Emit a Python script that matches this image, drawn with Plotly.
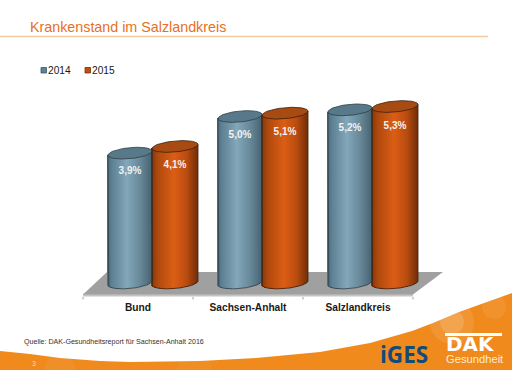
import numpy as np
import plotly.graph_objects as go

# ---- data ----
categories = ["Bund", "Sachsen-Anhalt", "Salzlandkreis"]
series_names = ["2014", "2015"]
values_2014 = [3.9, 5.0, 5.2]
values_2015 = [4.1, 5.1, 5.3]
labels_2014 = ["3,9%", "5,0%", "5,2%"]
labels_2015 = ["4,1%", "5,1%", "5,3%"]

# ---- geometry ----
W, H = 512, 370
X0, X1 = 83, 413      # tick span, px
Y_ZERO, PX_PER_UNIT = 283, 33.3
Y_BOT, Y_TOP = 296, 90
PX_PER_CAT = (X1 - X0) / 3
X_PAD = 27            # extra axis room on the right so that the last cylinder is not clipped
NO_LINE = dict(width=0, color="rgba(0,0,0,0)")


def px2v(py):
    return (Y_ZERO - py) / PX_PER_UNIT


def pxw(px):
    return px / PX_PER_CAT


def px2paper_x(px):
    return px / W


def px2paper_y(py):
    return 1 - py / H


def poly(points):
    return "M " + " L ".join(f"{px2paper_x(x):.4f},{px2paper_y(y):.4f}" for x, y in points) + " Z"


fig = go.Figure()

style = {
    "2014": dict(off=-8, width=44, label_off=18.5,
                 stops=[(0, "#4e6c7c"), (0.12, "#5f8294"), (0.45, "#83a8ba"), (0.75, "#68899a"), (1, "#4a6674")],
                 top="#587989", edge="#2e3d46", labels=labels_2014, values=values_2014),
    "2015": dict(off=37, width=46, label_off=19.5,
                 stops=[(0, "#823509"), (0.15, "#b04a0e"), (0.5, "#dc5e16"), (0.78, "#b84c10"), (1, "#773008")],
                 top="#a84b13", edge="#3a1e0c", labels=labels_2015, values=values_2015),
}


def hex2rgb(c):
    return np.array([int(c[i:i + 2], 16) for i in (1, 3, 5)], float)


def grad(t, stops):
    ts = [s[0] for s in stops]
    cols = np.array([hex2rgb(s[1]) for s in stops])
    r = [np.interp(t, ts, cols[:, i]) for i in range(3)]
    return f"rgb({int(r[0])},{int(r[1])},{int(r[2])})"


ELL_H = 5.5   # ellipse half height px
TILT = 2.0    # px rise from centre to right edge

# Bars (body of each cylinder) as narrow one-pixel strips
for name in series_names:
    st = style[name]
    xs, ys, bases, cols = [], [], [], []
    for i, v in enumerate(st["values"]):
        c = i + st["off"] / PX_PER_CAT
        n = st["width"]
        for k in range(n):
            t = (k + 0.5) / n
            u = 2 * t - 1
            xs.append(c + pxw(u * n / 2))
            bottom = -(ELL_H * np.sqrt(1 - u * u) - TILT * u) / PX_PER_UNIT
            topv = v + TILT * u / PX_PER_UNIT
            bases.append(bottom)
            ys.append(topv - bottom)
            cols.append(grad(t, st["stops"]))
    fig.add_bar(x=xs, y=ys, base=bases, width=pxw(1.15), marker=dict(color=cols, line=dict(width=0)),
                cliponaxis=False, showlegend=False, hoverinfo="skip")

# Top ellipses, outlines, value labels
ang = np.linspace(0, 2 * np.pi, 73)
for name in series_names:
    st = style[name]
    half = st["width"] / 2
    for i, v in enumerate(st["values"]):
        c = i + st["off"] / PX_PER_CAT
        ex = c + pxw(half) * np.cos(ang)
        ey = v + (ELL_H * np.sin(ang) + TILT * np.cos(ang)) / PX_PER_UNIT
        fig.add_scatter(x=ex, y=ey, mode="lines", fill="toself", fillcolor=st["top"],
                        line=dict(color=st["edge"], width=0.8), cliponaxis=False,
                        showlegend=False, hoverinfo="skip")
        a = np.linspace(np.pi, 2 * np.pi, 37)
        arc_x = c + pxw(half) * np.cos(a)
        arc_y = (ELL_H * np.sin(a) + TILT * np.cos(a)) / PX_PER_UNIT
        ox = np.concatenate([[c - pxw(half)], arc_x, [c + pxw(half)]])
        oy = np.concatenate([[v - TILT / PX_PER_UNIT], arc_y, [v + TILT / PX_PER_UNIT]])
        fig.add_scatter(x=ox, y=oy, mode="lines", line=dict(color=st["edge"], width=0.8),
                        cliponaxis=False, showlegend=False, hoverinfo="skip")
    fig.add_scatter(x=[i + st["off"] / PX_PER_CAT for i in range(3)],
                    y=[v - st["label_off"] / PX_PER_UNIT for v in st["values"]],
                    mode="text", text=st["labels"], textposition="middle center",
                    textfont=dict(family="Liberation Sans", size=10, color="#f2f2f2", weight="bold"),
                    cliponaxis=False, showlegend=False, hoverinfo="skip")

shapes = []
# header rule
shapes.append(dict(type="line", xref="paper", yref="paper", x0=0, x1=488 / W,
                   y0=px2paper_y(36.5), y1=px2paper_y(36.5), line=dict(color="#f3c9a0", width=1.5)))
# floor
shapes.append(dict(type="path", xref="paper", yref="paper",
                   path=poly([(83, 296.5), (413, 296.5), (413, 293.5), (83, 293.5)]),
                   fillcolor="#c4c4c4", line=NO_LINE, layer="below"))
shapes.append(dict(type="path", xref="paper", yref="paper",
                   path=poly([(83, 294.5), (107, 272), (443, 272), (413, 294.5)]),
                   fillcolor="#a0a0a0", line=NO_LINE, layer="below"))
# category boundary ticks
for k in range(4):
    tx = X0 + k * PX_PER_CAT
    shapes.append(dict(type="line", xref="paper", yref="paper", x0=px2paper_x(tx), x1=px2paper_x(tx),
                       y0=px2paper_y(297), y1=px2paper_y(299.5), line=dict(color="#a0a0a0", width=1)))
# footer band
bx = [0, 30, 60, 100, 130, 200, 256, 320, 370, 412, 433, 459, 512]
by = [351, 354, 358, 361, 362, 361, 358, 352, 343, 331, 323, 312, 293]
pts = list(zip(bx, by)) + [(512, 370), (0, 370)]
shapes.append(dict(type="path", xref="paper", yref="paper", path=poly(pts),
                   fillcolor="#f08a1c", line=NO_LINE, layer="below"))
# glow and rings in the footer
for cx, cy, r, op in [(452, 322, 22, 0.10), (452, 322, 12, 0.14), (494, 307, 12, 0.07), (60, 368, 15, 0.05),
                      (195, 372, 18, 0.04)]:
    shapes.append(dict(type="circle", xref="paper", yref="paper",
                       x0=px2paper_x(cx - r), x1=px2paper_x(cx + r),
                       y0=px2paper_y(cy + r), y1=px2paper_y(cy - r),
                       fillcolor="white", opacity=op, line=NO_LINE, layer="below"))
# DAK logo bar
shapes.append(dict(type="rect", xref="paper", yref="paper", x0=px2paper_x(445), x1=px2paper_x(502),
                   y0=px2paper_y(336), y1=px2paper_y(333), fillcolor="white", line=NO_LINE))
# legend swatches
for x, col, edge in [(41, "#5f8294", "#3f5763"), (85, "#c0500f", "#6e3008")]:
    shapes.append(dict(type="rect", xref="paper", yref="paper", x0=px2paper_x(x), x1=px2paper_x(x + 5.5),
                       y0=px2paper_y(73), y1=px2paper_y(67.5), fillcolor=col, line=dict(color=edge, width=0.8)))

dak_logo = ('<span style="font-size:20px;font-family:\'DejaVu Sans\';font-weight:bold;fill:#ffffff">DAK</span><br>'
            '<span style="font-size:11.2px;fill:#fdebd5">Gesundheit</span>')
annos = [
    dict(text="Krankenstand im Salzlandkreis", x=28 / W, y=px2paper_y(26.5), font=dict(size=14.3, color="#e8701e")),
    dict(text=series_names[0], x=46 / W, y=px2paper_y(70), font=dict(size=10.2, color="#1a1a1a")),
    dict(text=series_names[1], x=90 / W, y=px2paper_y(70), font=dict(size=10.2, color="#1a1a1a")),
    dict(text="Quelle: DAK-Gesundheitsreport für Sachsen-Anhalt 2016", x=22 / W, y=px2paper_y(341.5),
         font=dict(size=7.1, color="#333333")),
    dict(text="3", x=30 / W, y=px2paper_y(363), font=dict(size=7, color="#fbd9a8")),
    dict(text="<b>iGES</b>", x=377.5 / W, y=px2paper_y(354), font=dict(size=22.5, color="#134a7a", family="Open Sans")),
    dict(text=dak_logo, x=444 / W, y=px2paper_y(348.5), font=dict(size=9, color="#ffffff", family="Liberation Sans")),
]
annotations = [dict(xref="paper", yref="paper", xanchor="left", yanchor="middle", showarrow=False, align="left", **a)
               for a in annos]

fig.update_layout(
    width=W, height=H, margin=dict(l=0, r=0, t=0, b=0, pad=0),
    paper_bgcolor="white", plot_bgcolor="rgba(0,0,0,0)",
    barmode="overlay", bargap=0,
    font=dict(family="Liberation Sans", color="#111111"),
    xaxis=dict(domain=[X0 / W, (X1 + X_PAD) / W], range=[-0.5, 2.5 + X_PAD / PX_PER_CAT],
               tickvals=[0, 1, 2], ticktext=categories,
               ticks="", ticklen=0, ticklabelstandoff=4, showgrid=False, zeroline=False, showline=False,
               tickfont=dict(size=10.2, weight="bold", color="#1a1a1a")),
    yaxis=dict(domain=[1 - Y_BOT / H, 1 - Y_TOP / H], range=[px2v(Y_BOT), px2v(Y_TOP)], visible=False),
    shapes=shapes, annotations=annotations, showlegend=False,
)

fig.write_html("out.html", config=dict(displayModeBar=False),
               post_script="document.body.style.margin='0';document.documentElement.style.overflow='hidden';")
